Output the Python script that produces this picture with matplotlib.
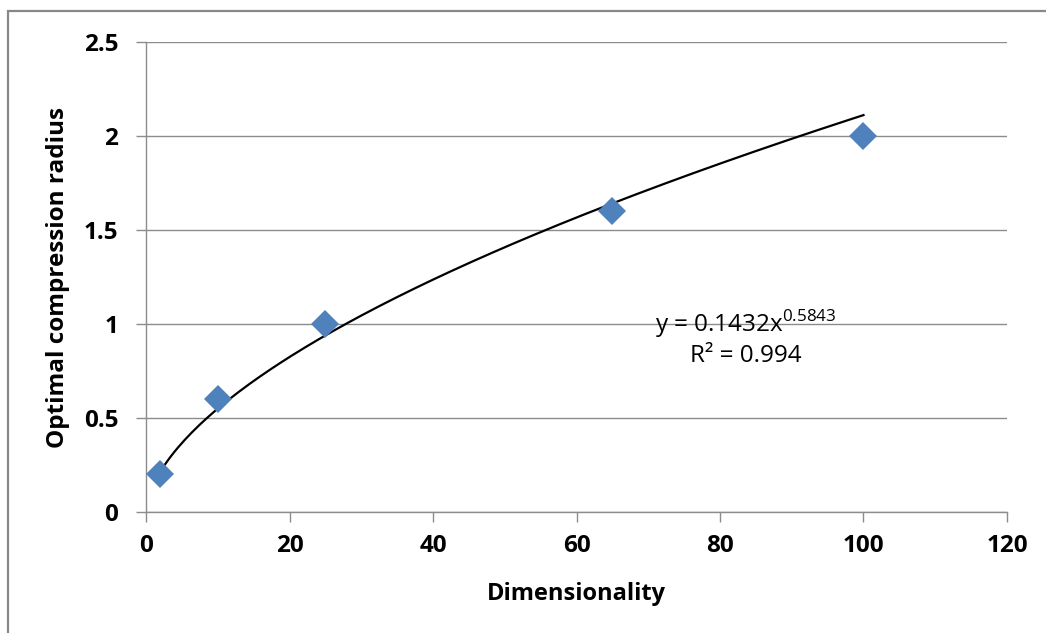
import matplotlib.pyplot as plt
from matplotlib.patches import Rectangle
import numpy as np

# data
dimensionality = [2, 10, 25, 65, 100]
radius = [0.2, 0.6, 1.0, 1.6, 2.0]

# power trendline shown on the chart
coef_a = 0.1432
coef_b = 0.5843
r_squared = 0.994

x_ticks = [0, 20, 40, 60, 80, 100, 120]
y_ticks = [0, 0.5, 1, 1.5, 2, 2.5]
y_tick_labels = ["0", "0.5", "1", "1.5", "2", "2.5"]

plt.rcParams['font.family'] = ['Open Sans', 'DejaVu Sans']

grid_col = '#8c8c8c'
fig = plt.figure(figsize=(10.46, 6.33), dpi=100)
ax = fig.add_axes([0.1396, 0.1912, 0.8231, 0.7424])

# trendline
xs = np.linspace(min(dimensionality), max(dimensionality), 200)
ax.plot(xs, coef_a * xs ** coef_b, color='black', linewidth=1.6, zorder=3)

ax.plot(dimensionality, radius, linestyle='none', marker='D', markersize=14.5,
        color='#4f81bd', markeredgewidth=0, zorder=4)

ax.set_xlim(0, 120)
ax.set_ylim(0, 2.5)
ax.set_xticks(x_ticks)
ax.set_yticks(y_ticks)
ax.set_yticklabels(y_tick_labels)
ax.grid(True, axis='y', color=grid_col, linewidth=1.0)
ax.set_axisbelow(True)

for s in ['top', 'right']:
    ax.spines[s].set_visible(False)
for s in ['left', 'bottom']:
    ax.spines[s].set_color(grid_col)
    ax.spines[s].set_linewidth(1.0)

ax.tick_params(axis='both', direction='out', length=7, width=1.0, color=grid_col,
               labelsize=17.5)
ax.tick_params(axis='y', pad=13)
ax.tick_params(axis='x', pad=9)
for lbl in ax.get_xticklabels() + ax.get_yticklabels():
    lbl.set_fontweight('bold')

ax.set_xlabel("Dimensionality", fontsize=17, fontweight='bold', labelpad=17)
ax.set_ylabel("Optimal compression radius", fontsize=17.5, fontweight='bold', labelpad=10)

ax.text(83.6, 1.0, r"y = %.4fx$^{\mathregular{%.4f}}$" % (coef_a, coef_b),
        ha='center', va='center', fontsize=17.5)
ax.text(83.6, 0.83, "R² = %.3f" % r_squared, ha='center', va='center', fontsize=17.5)

# chart border (cropped on the right and bottom)
fig.add_artist(Rectangle((8 / 1046, -0.1), 1.2, 0.9826 + 0.1, transform=fig.transFigure,
                         fill=False, edgecolor='#888888', linewidth=1.6))

plt.savefig("out.png", dpi=100)
